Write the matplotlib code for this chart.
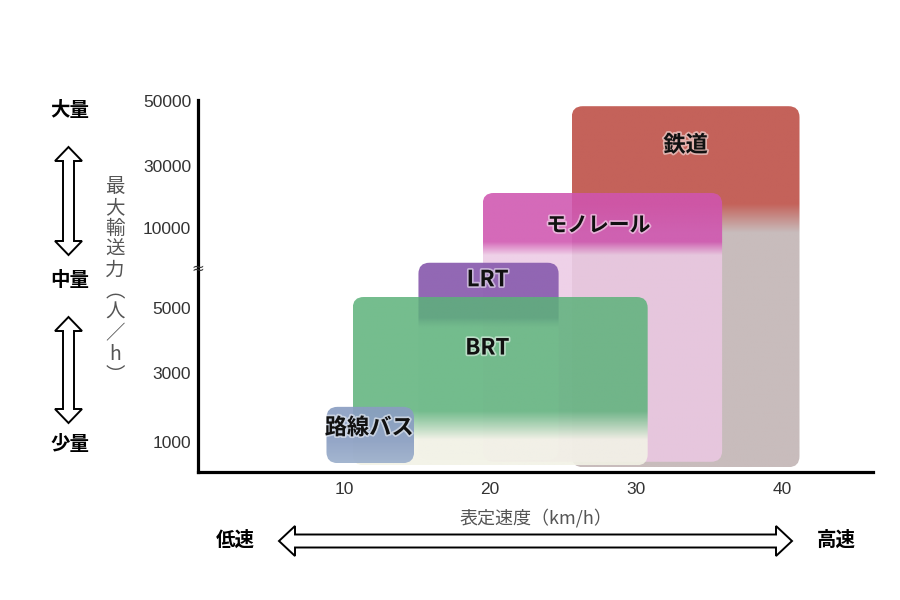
import numpy as np
import matplotlib.pyplot as plt
import matplotlib.patheffects as pe
import matplotlib.transforms as mtransforms
from matplotlib.patches import FancyBboxPatch, Polygon
from matplotlib.colors import to_rgb
from matplotlib.ticker import NullLocator

JP = ["Noto Sans CJK JP", "DejaVu Sans"]

# --- data -------------------------------------------------------------
modes = ["鉄道", "モノレール", "LRT", "BRT", "路線バス"]
speed_lo = [25.6, 19.5, 15.1, 10.6, 8.8]      # 表定速度 km/h
speed_hi = [41.2, 35.9, 24.7, 30.8, 14.8]
cap_lo = [670, 730, 750, 690, 715]            # 最大輸送力 人/h
cap_hi = [48000, 18600, 7400, 5500, 1750]

cap_ticks = [1000, 3000, 5000, 10000, 30000, 50000]
speed_ticks = [10, 20, 30, 40]

# --- y axis: non uniform (with a break), height in px above the x axis --
TICK_H = np.array([30, 99, 164, 244, 306, 371], float)
LOG_T = np.log10(cap_ticks)
S_LO = (TICK_H[1] - TICK_H[0]) / (LOG_T[1] - LOG_T[0])
S_HI = (TICK_H[-1] - TICK_H[-2]) / (LOG_T[-1] - LOG_T[-2])


def cap_to_h(v):
    lv = np.log10(np.clip(np.asarray(v, float), 1.0, None))
    h = np.interp(lv, LOG_T, TICK_H)
    h = np.where(lv < LOG_T[0], TICK_H[0] + (lv - LOG_T[0]) * S_LO, h)
    h = np.where(lv > LOG_T[-1], TICK_H[-1] + (lv - LOG_T[-1]) * S_HI, h)
    return h


def h_to_cap(h):
    h = np.asarray(h, float)
    lv = np.interp(h, TICK_H, LOG_T)
    lv = np.where(h < TICK_H[0], LOG_T[0] + (h - TICK_H[0]) / S_LO, lv)
    lv = np.where(h > TICK_H[-1], LOG_T[-1] + (h - TICK_H[-1]) / S_HI, lv)
    return 10 ** lv


# box look: colour at top, colour at bottom, fade between t1 and t2
STYLE = {
    "鉄道": dict(top="#c4625a", bot="#c8bcbc", t1=0.27, t2=0.35, a0=1.0, a1=1.0, fs=16, dx=0, dy=39),
    "モノレール": dict(top="#d055b0", bot="#ecc9e4", t1=0.18, t2=0.23, a0=0.88, a1=0.85, fs=15, dx=-4, dy=32),
    "LRT": dict(top="#8c60b0", bot="#f4f0f4", t1=0.28, t2=0.33, a0=0.95, a1=0.75, fs=16, dx=-1, dy=17),
    "BRT": dict(top="#5cb27a", bot="#f2f2e6", t1=0.68, t2=0.85, a0=0.85, a1=0.9, fs=16, dx=-13, dy=51),
    "路線バス": dict(top="#8a9ec2", bot="#9aaecb", t1=0.6, t2=1.0, a0=0.92, a1=0.9, fs=16, dx=-1, dy=21),
}

fig = plt.figure(figsize=(9, 6), dpi=100)
ax = fig.add_axes([198 / 900, 128 / 600, 674.5 / 900, 372 / 600])
ax.set_yscale("function", functions=(cap_to_h, h_to_cap))
ax.set_xlim(0, 46.2)
ax.set_ylim(h_to_cap(0), h_to_cap(372))

for s in ["top", "right"]:
    ax.spines[s].set_visible(False)
for s in ["left", "bottom"]:
    ax.spines[s].set_linewidth(2.3)
    ax.spines[s].set_color("black")

ax.set_yticks(cap_ticks, labels=[str(c) for c in cap_ticks])
ax.set_xticks(speed_ticks, labels=[str(s) for s in speed_ticks])
ax.yaxis.set_minor_locator(NullLocator())
ax.xaxis.set_minor_locator(NullLocator())
ax.tick_params(axis="y", length=0, pad=5, labelsize=12.5, labelcolor="#333333")
ax.tick_params(axis="x", length=0, pad=7, labelsize=12.5, labelcolor="#333333")
for lab in ax.get_xticklabels() + ax.get_yticklabels():
    lab.set_family("Liberation Sans")

# break mark on the y axis, between 5000 and 10000
brk = mtransforms.blended_transform_factory(ax.transAxes, ax.transData)
ax.text(0, np.sqrt(5000 * 10000), "≈", transform=brk, ha="center", va="center",
        fontsize=11, color="#333333", family="DejaVu Sans")

# overlay in pixel coordinates for boxes and decorations
ov = fig.add_axes([0, 0, 1, 1])
ov.set_xlim(0, 900)
ov.set_ylim(600, 0)
ov.axis("off")


def to_px(pts):
    return ov.transData.inverted().transform(ax.transData.transform(pts))


for i, m in enumerate(modes):
    st = STYLE[m]
    (x0, yb), (x1, yt) = to_px([(speed_lo[i], cap_lo[i]), (speed_hi[i], cap_hi[i])])
    patch = FancyBboxPatch((x0, yt), x1 - x0, yb - yt,
                           boxstyle="round,pad=0,rounding_size=11",
                           facecolor="none", edgecolor="none",
                           transform=ov.transData, zorder=2 + i)
    ov.add_patch(patch)
    t = np.linspace(0, 1, 300)[:, None]
    w = np.clip((t - st["t1"]) / (st["t2"] - st["t1"]), 0, 1)
    rgb = (1 - w) * np.array(to_rgb(st["top"])) + w * np.array(to_rgb(st["bot"]))
    a = (1 - w) * st["a0"] + w * st["a1"]
    img = np.concatenate([rgb, a], axis=1)[:, None, :]
    im = ov.imshow(img, extent=(x0, x1, yb, yt), origin="upper", aspect="auto",
                   interpolation="bilinear", zorder=2 + i)
    im.set_clip_path(patch)
    ov.text((x0 + x1) / 2 + st["dx"], yt + st["dy"], m, ha="center", va="center",
            fontsize=st["fs"], fontweight="bold", family=JP, color="#111111", zorder=20,
            path_effects=[pe.withStroke(linewidth=2.5, foreground="white", alpha=0.5)])

ov.set_xlim(0, 900)
ov.set_ylim(600, 0)


def double_arrow(p0, p1, shaft, head, head_len):
    p0, p1 = np.array(p0, float), np.array(p1, float)
    d = (p1 - p0) / np.linalg.norm(p1 - p0)
    n = np.array([-d[1], d[0]])
    a = p0 + d * head_len
    b = p1 - d * head_len
    pts = [p0, a + n * head, a + n * shaft, b + n * shaft, b + n * head,
           p1, b - n * head, b - n * shaft, a - n * shaft, a - n * head]
    ov.add_patch(Polygon(pts, closed=True, facecolor="white", edgecolor="black",
                         lw=1.4, joinstyle="miter", zorder=5))


# left side: 大量 / 中量 / 少量
for txt, y in [("大量", 110), ("中量", 280), ("少量", 445)]:
    ov.text(70, y, txt, ha="center", va="center", fontsize=14, fontweight="bold",
            family=JP, color="black")
double_arrow((68.5, 147), (68.5, 255), 5.5, 13.5, 14)
double_arrow((68.5, 317), (68.5, 423), 5.5, 13.5, 14)

# y axis title, written vertically
ov.text(115, 281, "\n".join(list("最大輸送力︵人／h︶")), ha="center", va="center",
        fontsize=14, family=JP, color="#555555", linespacing=1.0)

# x axis title and speed arrow
ov.text(536, 518, "表定速度（km/h）", ha="center", va="center", fontsize=13,
        family=JP, color="#555555")
double_arrow((279, 541), (792, 541), 6.5, 15, 16)
ov.text(235, 540, "低速", ha="center", va="center", fontsize=14, fontweight="bold",
        family=JP, color="black")
ov.text(836, 540, "高速", ha="center", va="center", fontsize=14, fontweight="bold",
        family=JP, color="black")

fig.savefig("out.png", dpi=100)
